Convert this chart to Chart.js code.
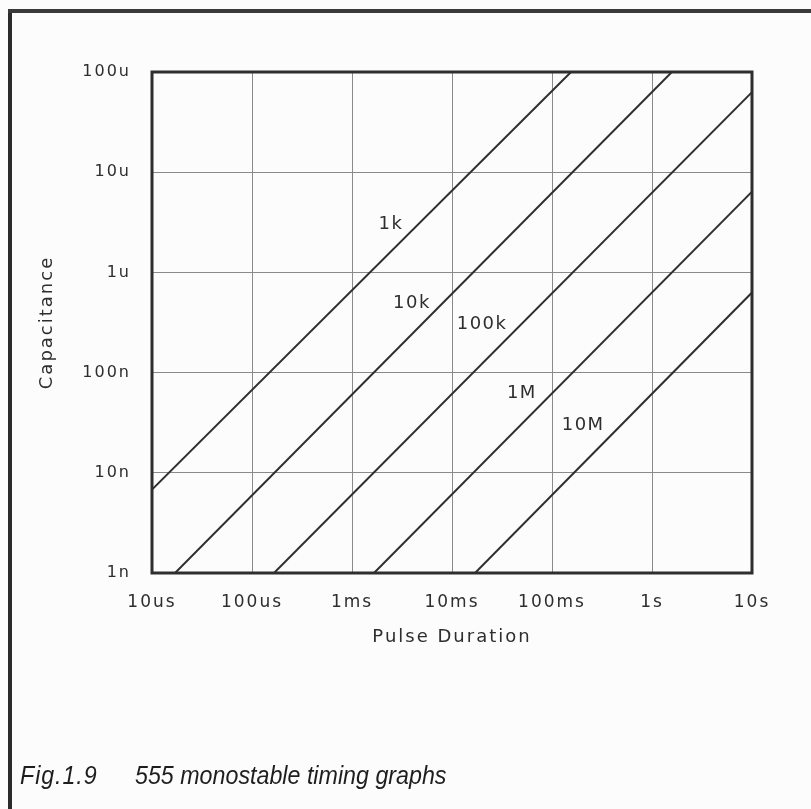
<!DOCTYPE html>
<html>
<head>
<meta charset="utf-8">
<script src="https://cdn.jsdelivr.net/npm/chart.js@4/dist/chart.umd.min.js"></script>
<style>
html,body{margin:0;padding:0;background:#fcfcfc;}
#wrap{position:relative;width:811px;height:809px;overflow:hidden;background:#fcfcfc;}
#frameL{position:absolute;left:8px;top:9px;width:4px;height:800px;background:#2b2b2b;}
#frameT{position:absolute;left:8px;top:9px;width:803px;height:4px;background:#3a3a3a;}
.cap{position:absolute;top:761px;font:italic 25px "Liberation Sans",Arial,sans-serif;color:#1e1e1e;white-space:nowrap;line-height:normal;transform:scaleX(0.93);transform-origin:0 0;}
canvas{position:absolute;left:0;top:0;}
</style>
</head>
<body>
<div id="wrap">
<canvas id="c" width="811" height="809"></canvas>
<div id="frameL"></div>
<div id="frameT"></div>
<div class="cap" style="left:20px;letter-spacing:1px">Fig.1.9</div>
<div class="cap" style="left:135px">555 monostable timing graphs</div>
</div>
<script>
// ---- data ----
const resistorLabels = ['1k', '10k', '100k', '1M', '10M'];
// start and end points of each R line (pulse duration in s, capacitance in F)
const lineStartT = [1e-5, 1.70e-5, 1.66e-4, 1.66e-3, 1.70e-2];
const lineStartC = [6.8e-9, 1e-9, 1e-9, 1e-9, 1e-9];
const lineEndT   = [0.155, 1.58, 10, 10, 10];
const lineEndC   = [1e-4, 1e-4, 6.3e-5, 6.4e-6, 6.3e-7];
// where each line label sits (data coordinates)
const labelT = [2.45e-3, 3.98e-3, 2.0e-2, 5.0e-2, 0.205];
const labelC = [3.0e-6, 4.9e-7, 3.0e-7, 6.2e-8, 3.0e-8];

const xTickValues = [1e-5, 1e-4, 1e-3, 1e-2, 1e-1, 1, 10];
const xTickLabels = ['10us', '100us', '1ms', '10ms', '100ms', '1s', '10s'];
const yTickValues = [1e-9, 1e-8, 1e-7, 1e-6, 1e-5, 1e-4];
const yTickLabels = ['1n', '10n', '100n', '1u', '10u', '100u'];

const INK = '#2e2e2e';
const FONT = '"DejaVu Sans", sans-serif';

const datasets = resistorLabels.map((r, i) => ({
  label: r,
  data: [{x: lineStartT[i], y: lineStartC[i]}, {x: lineEndT[i], y: lineEndC[i]}],
  showLine: true,
  borderColor: INK,
  borderWidth: 2,
  pointRadius: 0,
  fill: false
}));

const spacingPlugin = {
  id: 'spacing',
  beforeDraw(chart) { chart.ctx.letterSpacing = '2px'; }
};

const framePlugin = {
  id: 'frame',
  afterDraw(chart) {
    const {ctx, chartArea: a} = chart;
    ctx.save();
    ctx.strokeStyle = INK;
    ctx.lineWidth = 3;
    ctx.strokeRect(a.left, a.top, a.right - a.left, a.bottom - a.top);
    ctx.restore();
  }
};

const labelPlugin = {
  id: 'lineLabels',
  afterDatasetsDraw(chart) {
    const {ctx, scales: {x, y}} = chart;
    ctx.save();
    ctx.font = '18px ' + FONT;
    ctx.letterSpacing = '1.5px';
    ctx.fillStyle = INK;
    ctx.textAlign = 'center';
    ctx.textBaseline = 'middle';
    resistorLabels.forEach((r, i) => {
      ctx.fillText(r, x.getPixelForValue(labelT[i]), y.getPixelForValue(labelC[i]));
    });
    ctx.restore();
  }
};

new Chart(document.getElementById('c'), {
  type: 'scatter',
  data: {datasets},
  options: {
    responsive: false,
    animation: false,
    events: [],
    layout: {padding: {left: 0, right: 59, top: 72, bottom: 0}},
    plugins: {legend: {display: false}, tooltip: {enabled: false}},
    scales: {
      x: {
        type: 'logarithmic',
        min: 1e-5,
        max: 10,
        afterBuildTicks: s => { s.ticks = xTickValues.map(v => ({value: v})); },
        afterFit: s => { s.height = 236; },
        ticks: {
          autoSkip: false,
          maxRotation: 0,
          padding: 19,
          color: INK,
          font: {family: FONT, size: 17},
          callback: (v, i) => xTickLabels[i]
        },
        grid: {color: '#8a8a8a', lineWidth: 1, drawTicks: false},
        border: {display: false},
        title: {
          display: true,
          text: 'Pulse Duration',
          color: INK,
          font: {family: FONT, size: 18},
          padding: {top: 0, bottom: 161}
        }
      },
      y: {
        type: 'logarithmic',
        min: 1e-9,
        max: 1e-4,
        afterBuildTicks: s => { s.ticks = yTickValues.map(v => ({value: v})); },
        afterFit: s => { s.width = 152; },
        ticks: {
          autoSkip: false,
          padding: 21,
          color: INK,
          font: {family: FONT, size: 16},
          callback: (v, i) => yTickLabels[i]
        },
        grid: {color: '#8a8a8a', lineWidth: 1, drawTicks: false},
        border: {display: false},
        title: {
          display: true,
          text: 'Capacitance',
          color: INK,
          font: {family: FONT, size: 18},
          padding: {top: 37, bottom: 0}
        }
      }
    }
  },
  plugins: [spacingPlugin, framePlugin, labelPlugin]
});
</script>
</body>
</html>
